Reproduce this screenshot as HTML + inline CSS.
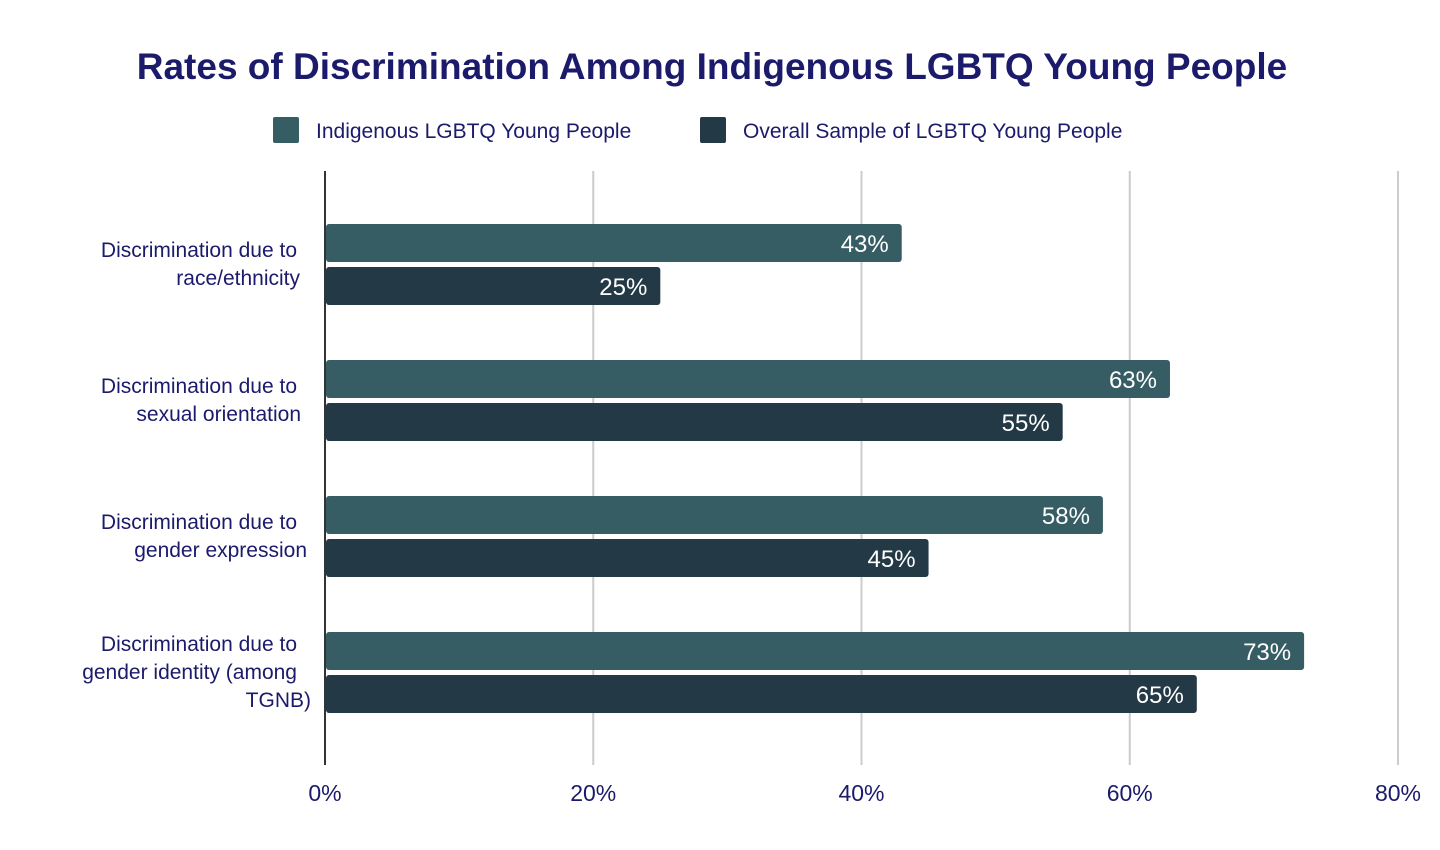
<!DOCTYPE html>
<html><head><meta charset="utf-8"><style>
body{margin:0;background:#fff;font-family:"Liberation Sans",sans-serif;}
svg{display:block}
</style></head><body>
<svg id="chart" width="1440" height="850">
<text x="712" y="79" text-anchor="middle" font-size="37" font-weight="bold" fill="#1b1a6b">Rates of Discrimination Among Indigenous LGBTQ Young People</text>
<g>
<rect x="273" y="117" width="26" height="26" rx="2" fill="#375d64"/>
<text x="316" y="138" font-size="21" fill="#1b1a6b">Indigenous LGBTQ Young People</text>
<rect x="700" y="117" width="26" height="26" rx="2" fill="#233945"/>
<text x="743" y="138" font-size="21" fill="#1b1a6b">Overall Sample of LGBTQ Young People</text>
</g>
<g id="grid"></g><g id="bars"></g><g id="labels"></g>
</svg>
<script>
const categories=[["Discrimination due to","race/ethnicity"],["Discrimination due to","sexual orientation"],["Discrimination due to","gender expression"],["Discrimination due to","gender identity (among","TGNB)"]];
const indigenous=[43,63,58,73];
const overall=[25,55,45,65];
const ticks=[0,20,40,60,80];
const NS="http://www.w3.org/2000/svg";
const x0=325,x1=1398,xmax=80;
const xs=v=>x0+(x1-x0)*v/xmax;
const groupY=i=>224+136*i;
function mk(tag,attrs,parent){const e=document.createElementNS(NS,tag);for(const k in attrs)e.setAttribute(k,attrs[k]);parent.appendChild(e);return e;}
const grid=document.getElementById('grid'),bars=document.getElementById('bars'),labels=document.getElementById('labels');
ticks.forEach(t=>{
 const l=mk('line',{x1:xs(t),x2:xs(t),y1:171,y2:765,stroke:t===0?'#333':'#ccc','stroke-width':2},grid);
 
 
 const tx=mk('text',{x:xs(t),y:801,'text-anchor':'middle','font-size':23,fill:'#1b1a6b'},labels);
 tx.textContent=t+'%';
 
 
});
categories.forEach((c,i)=>{
 const y=groupY(i);
 [[indigenous[i],'#375d64',0,'indigenous'],[overall[i],'#233945',43,'overall']].forEach(([v,col,off,nm])=>{
  const r=mk('rect',{x:x0+1,y:y+off,width:xs(v)-x0-1,height:38,rx:3,fill:col},bars);
  
  
  const t=mk('text',{x:xs(v)-13,y:y+off+28,'text-anchor':'end','font-size':24,fill:'#fff'},labels);
  t.textContent=v+'%';
  
  
 });
 const n=c.length,cy=y+40,top=cy-(n-1)*14;
 const t=mk('text',{'text-anchor':'end','font-size':21,fill:'#1b1a6b'},labels);
 
 
 c.forEach((line,j)=>{const s=mk('tspan',{x:j===n-1&&n>2?311:(j===0?297:(n>2?297:300+(i===1?1:i===2?7:0))),y:top+j*28+7},t);s.textContent=line;});
});
</script>
</body></html>
